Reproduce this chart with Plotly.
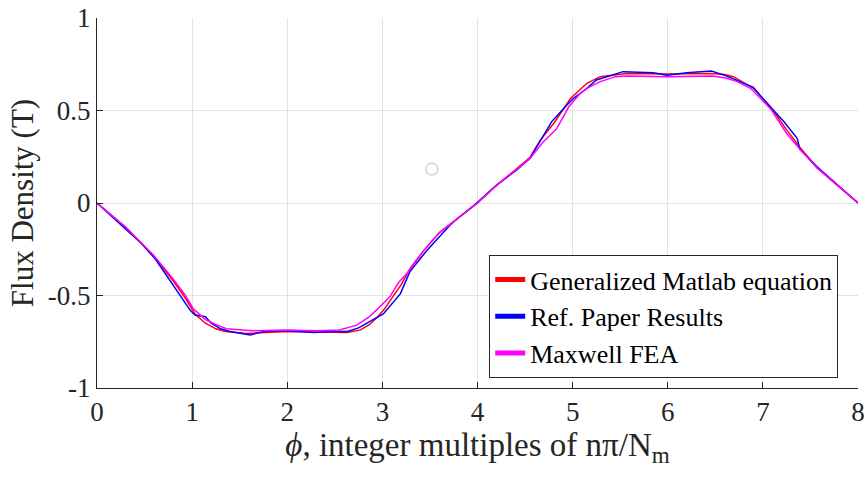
import plotly.graph_objects as go

# ---- data ----
matlab_x = [0, 0.3, 0.6, 0.8, 0.93, 1.03, 1.14, 1.25, 1.35, 1.57, 2.0, 2.4, 2.63, 2.77, 2.87, 2.94, 3.02, 3.11,
            3.2, 3.29, 3.43, 3.6, 3.8, 4.0, 4.2, 4.4, 4.55, 4.66, 4.8, 4.98, 5.08, 5.15, 5.29, 5.57, 6.0, 6.45,
            6.6, 6.69, 6.9, 7.08, 7.25, 7.39, 7.57, 7.8, 8.0]
matlab_y = [0, -0.13, -0.29, -0.42, -0.515, -0.6, -0.65, -0.68, -0.695, -0.705, -0.695, -0.70, -0.70, -0.686,
            -0.655, -0.62, -0.575, -0.506, -0.44, -0.355, -0.26, -0.16, -0.08, 0, 0.095, 0.18, 0.245, 0.34, 0.43,
            0.566, 0.615, 0.647, 0.683, 0.70, 0.697, 0.70, 0.695, 0.683, 0.62, 0.52, 0.395, 0.30, 0.19, 0.09, 0]

paper_x = [0, 0.29, 0.45, 0.61, 0.82, 0.98, 1.03, 1.14, 1.2, 1.3, 1.4, 1.61, 1.75, 2.0, 2.28, 2.45, 2.63, 2.75,
           2.87, 3.01, 3.19, 3.29, 3.47, 3.71, 3.78, 3.97, 4.2, 4.41, 4.55, 4.69, 4.78, 4.94, 5.01, 5.15, 5.25,
           5.53, 5.85, 5.99, 6.2, 6.46, 6.6, 6.76, 6.90, 7.04, 7.22, 7.36, 7.39, 7.57, 7.8, 8.0]
paper_y = [0, -0.137, -0.21, -0.30, -0.46, -0.58, -0.605, -0.615, -0.65, -0.68, -0.695, -0.714, -0.695, -0.69,
           -0.70, -0.695, -0.695, -0.675, -0.64, -0.60, -0.49, -0.37, -0.255, -0.12, -0.088, -0.01, 0.097, 0.178,
           0.24, 0.358, 0.44, 0.53, 0.566, 0.62, 0.665, 0.71, 0.704, 0.69, 0.704, 0.713, 0.69, 0.656, 0.625, 0.54,
           0.44, 0.35, 0.29, 0.196, 0.09, 0]

fea_x = [0, 0.3, 0.6, 0.8, 0.93, 1.01, 1.14, 1.24, 1.36, 1.64, 2.0, 2.3, 2.55, 2.73, 2.85, 2.94, 3.08, 3.17,
         3.26, 3.43, 3.6, 3.8, 4.0, 4.2, 4.4, 4.55, 4.69, 4.83, 4.96, 5.08, 5.15, 5.29, 5.45, 5.57, 6.0, 6.47,
         6.62, 6.73, 6.87, 7.08, 7.25, 7.39, 7.57, 7.8, 8.0]
fea_y = [0, -0.13, -0.285, -0.41, -0.50, -0.57, -0.63, -0.655, -0.68, -0.69, -0.686, -0.69, -0.686, -0.66,
         -0.62, -0.578, -0.506, -0.43, -0.38, -0.26, -0.16, -0.08, 0, 0.095, 0.175, 0.24, 0.33, 0.40, 0.52,
         0.593, 0.62, 0.656, 0.683, 0.686, 0.683, 0.686, 0.674, 0.656, 0.62, 0.51, 0.376, 0.29, 0.19, 0.09, 0]

marker_x = [3.52]
marker_y = [0.184]

x_ticks = [0, 1, 2, 3, 4, 5, 6, 7, 8]
x_ticktext = ["0", "1", "2", "3", "4", "5", "6", "7", "8"]
y_ticks = [-1, -0.5, 0, 0.5, 1]
y_ticktext = ["-1", "-0.5", "0", "0.5", "1"]

FONT = "Liberation Serif, Times New Roman, serif"
AXC = "#262626"

fig = go.Figure()
fig.add_trace(go.Scatter(x=matlab_x, y=matlab_y, mode="lines", name="Generalized Matlab equation",
                         line=dict(color="#ff0000", width=1.5)))
fig.add_trace(go.Scatter(x=paper_x, y=paper_y, mode="lines", name="Ref. Paper Results",
                         line=dict(color="#0000ff", width=1.5)))
fig.add_trace(go.Scatter(x=fea_x, y=fea_y, mode="lines", name="Maxwell FEA",
                         line=dict(color="#ff00ff", width=1.5)))
fig.add_trace(go.Scatter(x=marker_x, y=marker_y, mode="markers", showlegend=False, hoverinfo="skip",
                         marker=dict(symbol="circle-open", size=12, color="#d4d4d4", line=dict(width=1.5))))

fig.update_layout(
    width=867, height=478,
    margin=dict(l=97, r=9, t=18, b=90),
    paper_bgcolor="white", plot_bgcolor="white",
    font=dict(family=FONT, color="#000000"),
    showlegend=True,
    legend=dict(x=0.974, y=0.027, xanchor="right", yanchor="bottom",
                bgcolor="white", bordercolor=AXC, borderwidth=1,
                font=dict(family=FONT, size=26, color="#000000"),
                tracegroupgap=0, itemsizing="constant"),
)
fig.update_xaxes(
    range=[0, 8], tickvals=x_ticks, ticktext=x_ticktext, automargin=False,
    showgrid=True, gridcolor="#e3e3e3", gridwidth=1,
    showline=True, linecolor=AXC, linewidth=1,
    ticks="inside", ticklen=6, tickcolor=AXC,
    tickfont=dict(family=FONT, size=27, color=AXC),
    zeroline=False, mirror=False,
    title=dict(text="<i>ϕ</i>, integer multiples of nπ/N<sub>m</sub>",
               font=dict(family=FONT, size=33, color=AXC), standoff=5),
)
fig.update_yaxes(
    range=[-1, 1], tickvals=y_ticks, ticktext=y_ticktext, automargin=False,
    showgrid=True, gridcolor="#e3e3e3", gridwidth=1,
    showline=True, linecolor=AXC, linewidth=1,
    ticks="inside", ticklen=6, tickcolor=AXC,
    tickfont=dict(family=FONT, size=27, color=AXC),
    zeroline=False, mirror=False,
    title=dict(text="Flux Density (T)", font=dict(family=FONT, size=31, color=AXC), standoff=4),
)

fig.write_html("out.html")
